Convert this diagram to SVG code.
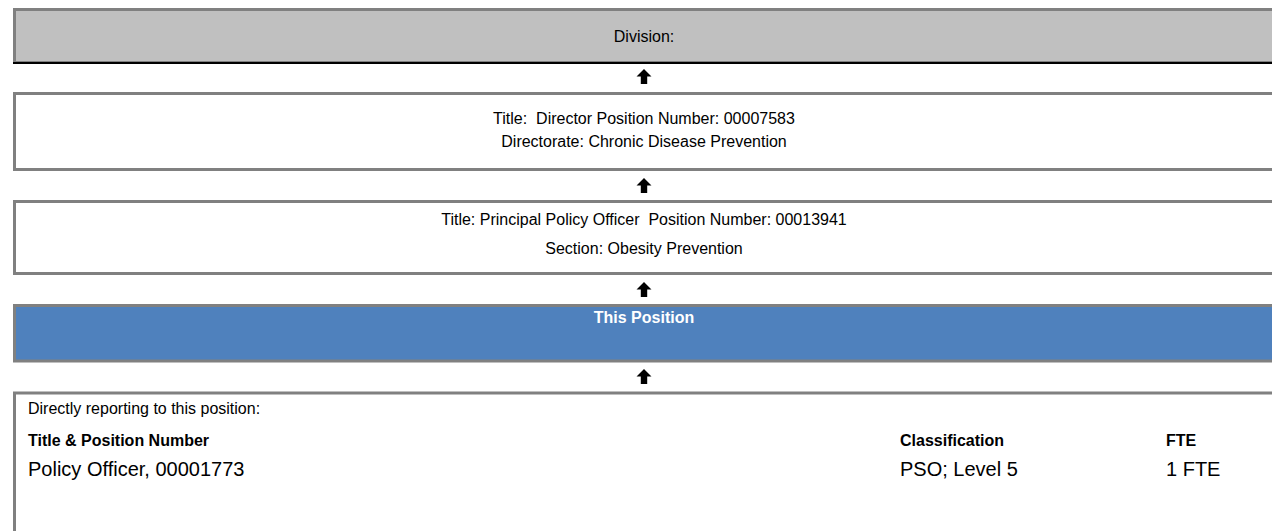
<svg xmlns="http://www.w3.org/2000/svg" width="1272" height="531" viewBox="0 0 1272 531">
<style>
.box{stroke:#808080;stroke-width:3}
.t{font-family:"Liberation Sans",Arial,sans-serif;font-size:16px;fill:#000;white-space:pre}
.c{text-anchor:middle}
.b{font-weight:bold}
.big{font-size:20px}
</style>
<defs>
<path id="arr" d="M0,0 L7.5,7.5 L3.2,7.5 L3.2,15 L-3.2,15 L-3.2,7.5 L-7.5,7.5 Z" fill="#000"/>
</defs>
<rect width="1272" height="531" fill="#fff"/>
<g id="connectors">
<use href="#arr" x="644" y="69"/>
<use href="#arr" x="644" y="178"/>
<use href="#arr" x="644" y="282"/>
<use href="#arr" x="644" y="369"/>
</g>
<g id="division">
<rect class="box" x="14.5" y="9.5" width="1300" height="53" fill="#c0c0c0"/>
<line x1="13" y1="63" x2="1272" y2="63" stroke="#000" stroke-width="2"/>
<text class="t c" x="644" y="42">Division:</text>
</g>
<g id="director">
<rect class="box" x="14.5" y="93.5" width="1300" height="76" fill="#fff"/>
<text class="t c" x="644" y="124" xml:space="preserve">Title:  Director Position Number: 00007583</text>
<text class="t c" x="644" y="147">Directorate: Chronic Disease Prevention</text>
</g>
<g id="principal">
<rect class="box" x="14.5" y="201.5" width="1300" height="72" fill="#fff"/>
<text class="t c" x="644" y="225" xml:space="preserve">Title: Principal Policy Officer  Position Number: 00013941</text>
<text class="t c" x="644" y="254">Section: Obesity Prevention</text>
</g>
<g id="this-position">
<rect class="box" x="14.5" y="305.5" width="1300" height="55.5" fill="#4f81bd"/>
<text class="t c b" x="644" y="323" style="fill:#fff">This Position</text>
</g>
<g id="reports">
<rect class="box" x="14.5" y="393" width="1300" height="150" fill="#fff"/>
<text class="t" x="28" y="414">Directly reporting to this position:</text>
<text class="t b" x="28" y="446">Title &amp; Position Number</text>
<text class="t b" x="900" y="446">Classification</text>
<text class="t b" x="1166" y="446">FTE</text>
<text class="t big" x="28" y="476">Policy Officer, 00001773</text>
<text class="t big" x="900" y="476">PSO; Level 5</text>
<text class="t big" x="1166" y="476">1 FTE</text>
</g>
</svg>
